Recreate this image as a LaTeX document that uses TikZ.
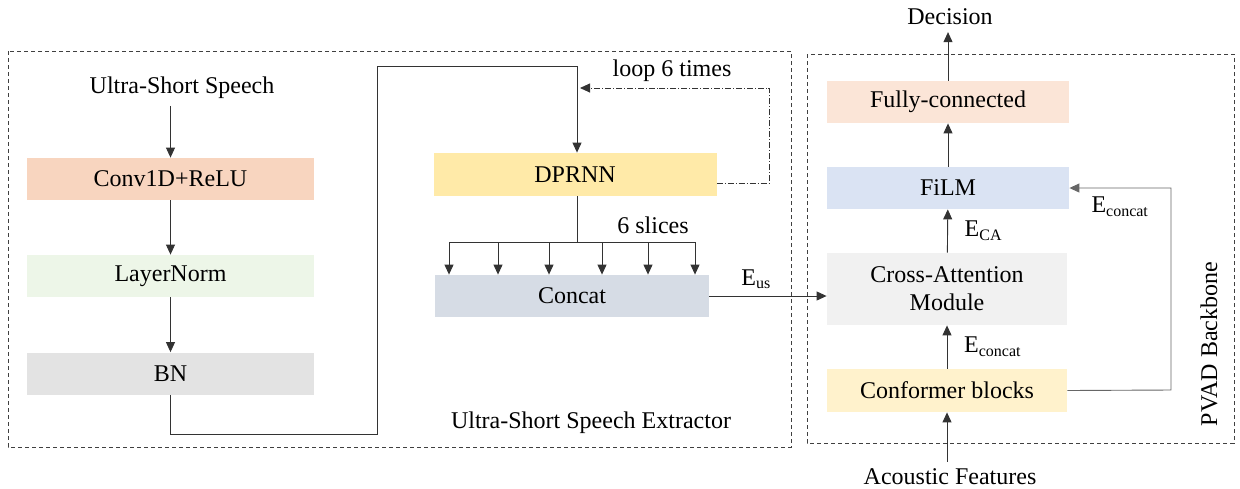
\documentclass[tikz,border=0pt]{standalone}
\usepackage{fontspec}
\setmainfont{Liberation Serif}
\usepackage{tikz}
\usetikzlibrary{positioning,arrows.meta}

\definecolor{convcol}{HTML}{F8D5BF}
\definecolor{lncol}{HTML}{EDF6E8}
\definecolor{bncol}{HTML}{E3E3E3}
\definecolor{rnncol}{HTML}{FFEAA8}
\definecolor{catcol}{HTML}{D6DCE5}
\definecolor{fccol}{HTML}{FBE5D7}
\definecolor{filmcol}{HTML}{DAE3F3}
\definecolor{cacol}{HTML}{F1F1F1}
\definecolor{confcol}{HTML}{FFF2CC}

\begin{document}
\begin{tikzpicture}[x=0.5pt,y=-0.5pt,
                    every node/.style={font=\rmfamily\fontsize{12}{13}\selectfont},
                    block/.style={rectangle,inner sep=0,align=center,minimum height=21pt,
                                  font=\rmfamily\fontsize{12}{13}\selectfont},
                    frame/.style={draw=black!75,dash pattern=on 2pt off 1.5pt,line width=0.4pt},
                    link/.style={draw=black!80,line width=0.45pt,-{Triangle[length=5pt,width=4.5pt]}}
                ]
    \useasboundingbox (0,0) rectangle (1240,488);

    % frames
    \draw[frame] (8,51) rectangle (791,447);
    \draw[frame] (807,54) rectangle (1234,443);

    % extractor
    \node (us) at (182,88) {Ultra-Short Speech};
    \node[block,fill=convcol,minimum width=143.5pt] (conv) at (170.5,179) {Conv1D+ReLU};
    \node[block,fill=lncol,minimum width=143.5pt] (ln) at (170.5,276) {LayerNorm};
    \node[block,fill=bncol,minimum width=143.5pt] (bn) at (170.5,373.5) {BN};
    \node[block,fill=rnncol,minimum width=141.5pt,minimum height=21.5pt] (dprnn) at (575,174.5) {DPRNN};
    \node[block,fill=catcol,minimum width=137pt] (concat) at (572,296) {Concat};
    \node (loop) at (672,71) {loop 6 times};
    \node (slices) at (653,225) {6 slices};
    \node (ext) at (591,423) {Ultra-Short Speech Extractor};
    \coordinate (top) at (577,66);
    \coordinate (split) at (577,242);

    \draw[link] (us.south -| conv.north) -- (conv.north);
    \draw[link] (conv) -- (ln);
    \draw[link] (ln) -- (bn);
    \draw[link] (bn.south) |- (377,434) |- (top) -- (top |- dprnn.north);
    \draw[link,densely dashdotted] ([yshift=-4.25pt]dprnn.east) -| (769,88) -- (580,88);
    \draw[draw=black!80,line width=0.45pt] (split |- dprnn.south) -- (split);
    \draw[draw=black!80,line width=0.45pt] (449,242) -- (695,242);
    \foreach \x in {449,498,549,602,648,695}
        {
        \path (\x,0) coordinate (s);
        \draw[link] (s |- split) -- (s |- concat.north);
    }

    % backbone
    \node[block,fill=fccol,minimum width=121pt] (fc) at (948,102) {Fully-connected};
    \node[block,fill=filmcol,minimum width=121pt] (film) at (948,188) {FiLM};
    \node[block,fill=cacol,minimum width=120pt,minimum height=36pt] (ca) at (947,289) {Cross-Attention\\[1pt]Module};
    \node[block,fill=confcol,minimum width=120pt,minimum height=21.5pt] (conf) at (947,390.5) {Conformer blocks};
    \node (dec) at (950,17) {Decision};
    \node (feat) at (950,477) {Acoustic Features};
    \node[rotate=90] (pvad) at (1209,344) {PVAD Backbone};

    \draw[link] (feat.north -| conf.south) -- (conf.south);
    \draw[link] (conf) -- node[right=5pt] {E\textsubscript{concat}} (ca);
    \draw[link] (ca) -- node[right=5pt] {E\textsubscript{CA}} (film);
    \draw[link] (film) -- (fc);
    \draw[link] (fc.north) -- (dec.south -| fc.north);
    \draw[link,draw=black!60] (conf.east) -- (1171,390) |- node[pos=0.75,below=1pt] {E\textsubscript{concat}} (film.east);
    \draw[link] (concat.east) -- node[pos=0.4,above] {E\textsubscript{us}} (concat.east -| ca.west);
\end{tikzpicture}
\end{document}
